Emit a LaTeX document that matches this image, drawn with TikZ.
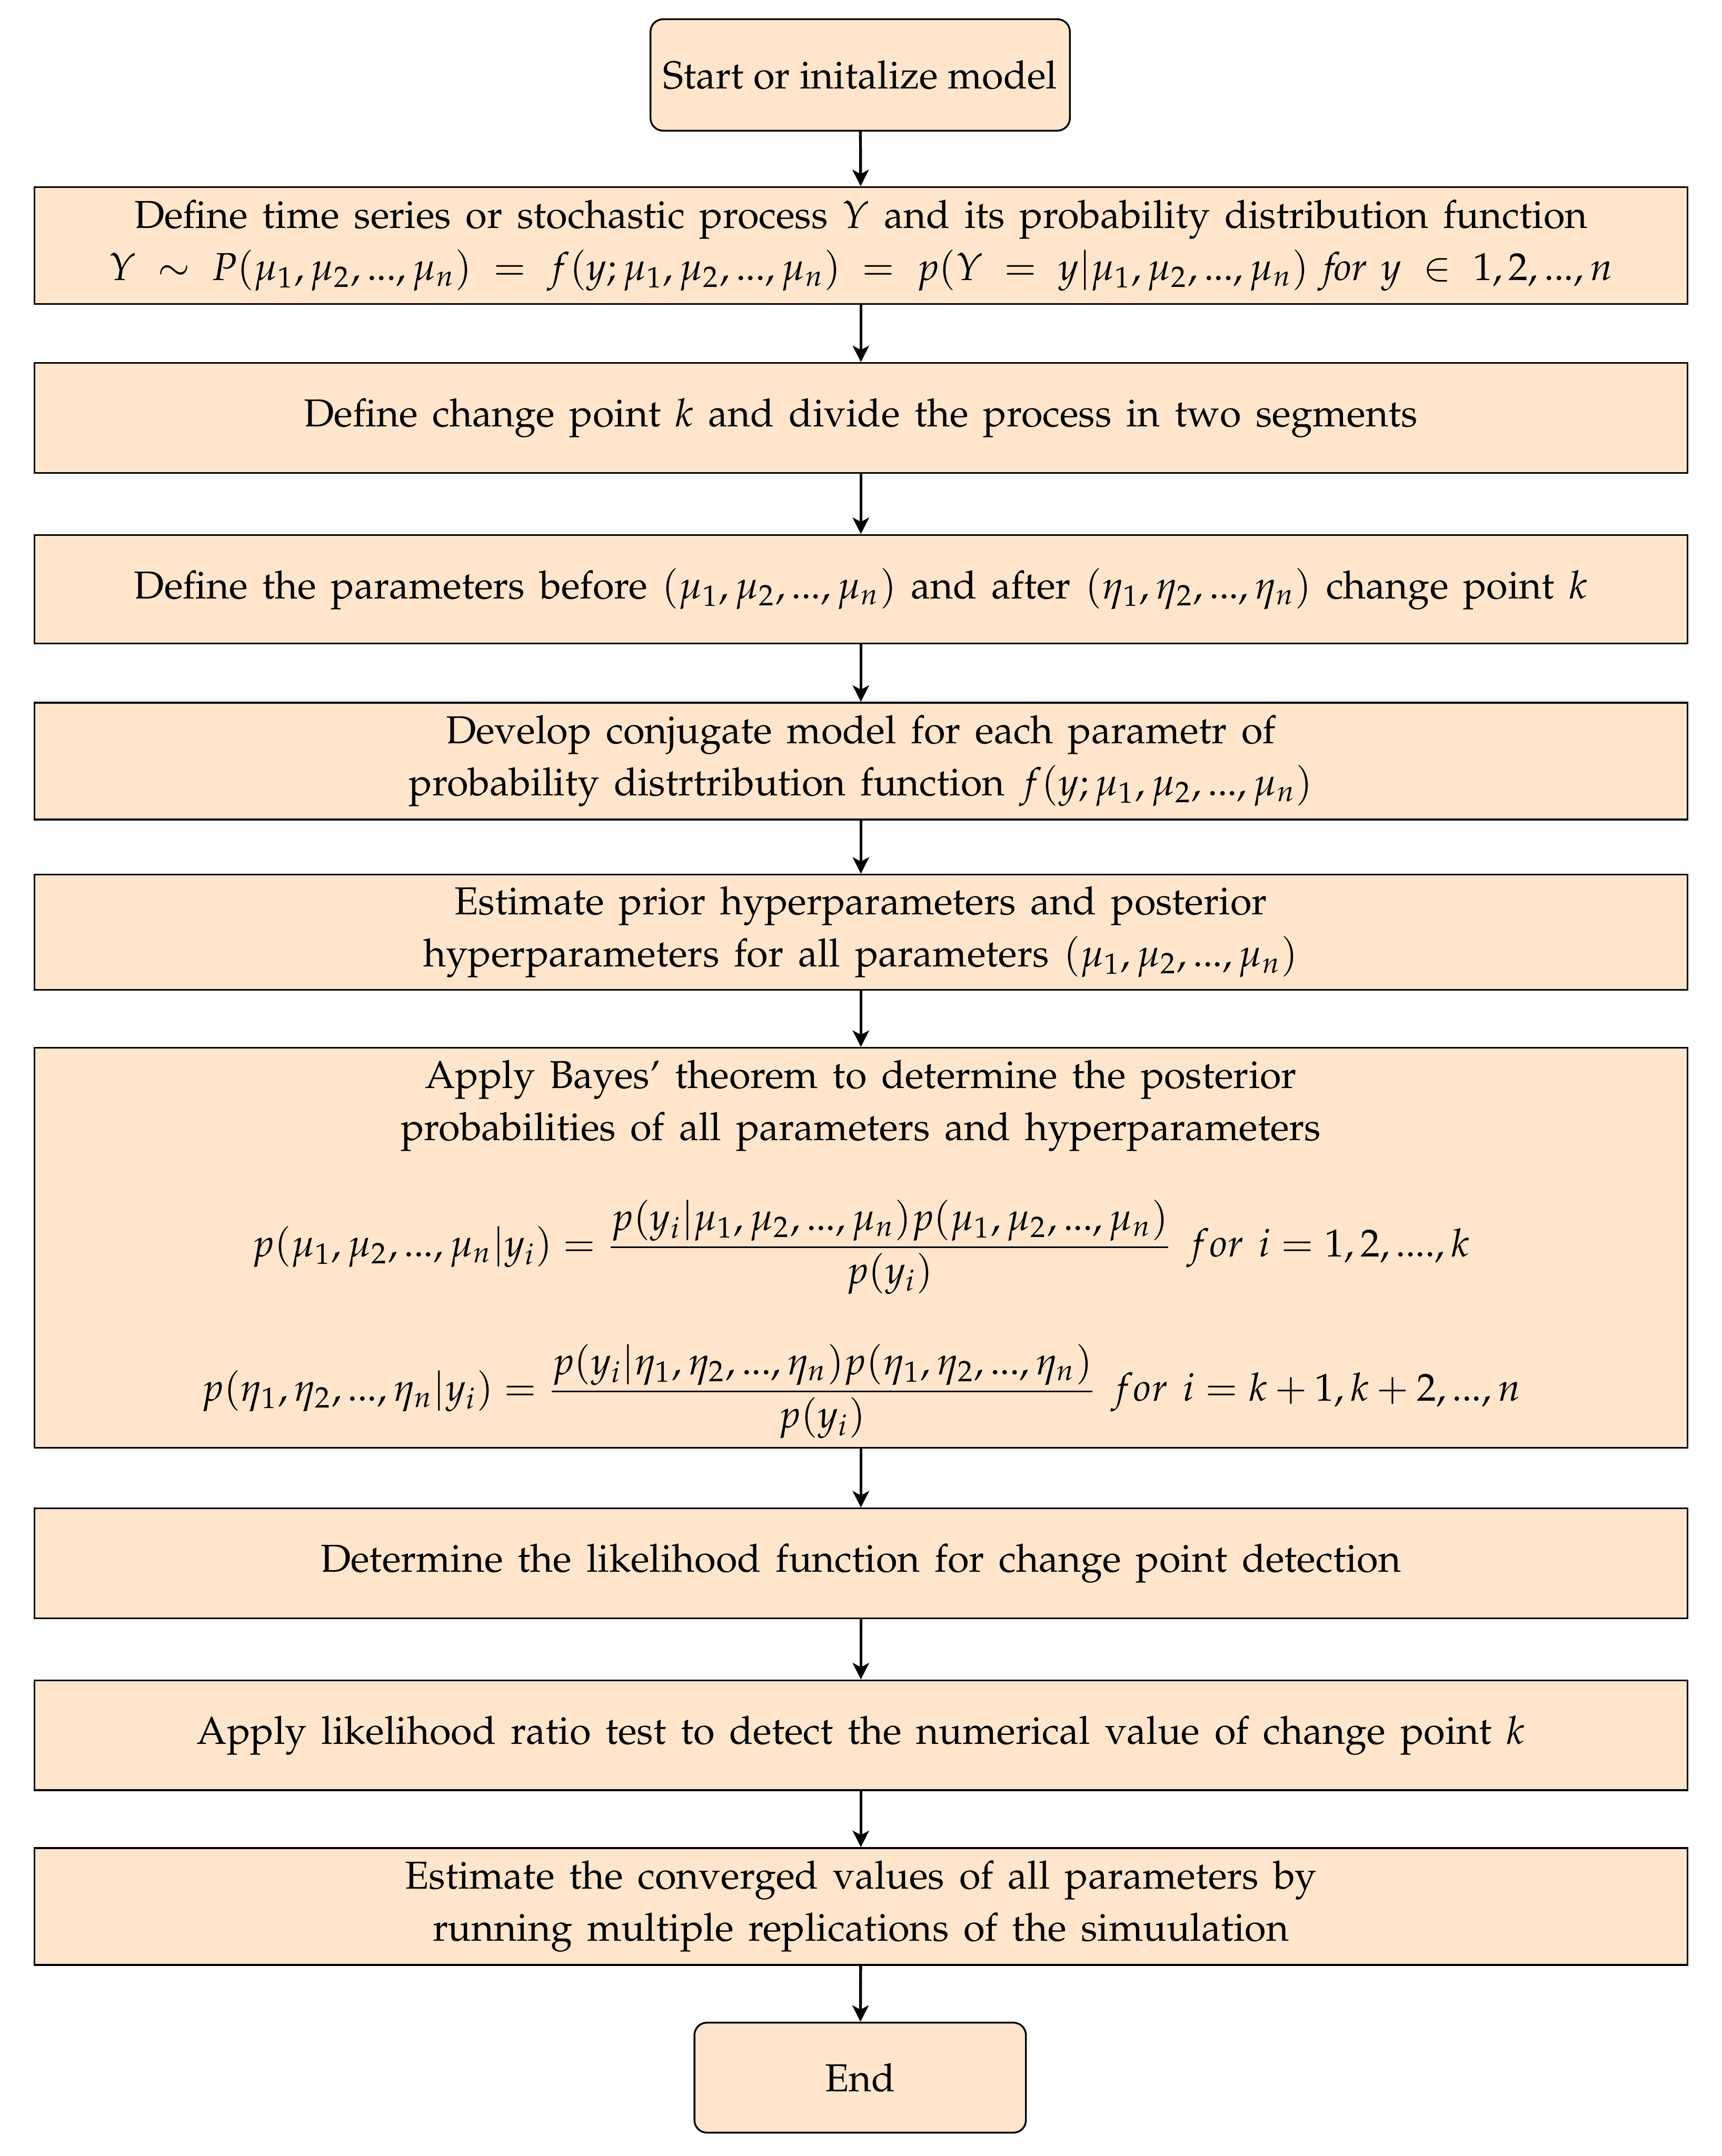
\documentclass[tikz,border=0pt]{standalone}
\usepackage[T1]{fontenc}
\usepackage{mathpazo}
\usetikzlibrary{arrows.meta}
\newcommand{\boxfont}{\fontsize{10.9}{14.6}\selectfont\spaceskip=4.1pt plus 1pt minus 1pt\relax}
\newcommand{\termfont}{\fontsize{10.9}{14.6}\selectfont}
\tikzset{
  flowbox/.style={draw=black, line width=0.5pt, fill=orange!20, minimum width=462.77pt,
    align=center, inner sep=0pt, font=\boxfont},
  termbox/.style={flowbox, rounded corners=3.5pt, font=\termfont},
  plaintext/.style={inner sep=0pt, align=center, font=\boxfont},
  flowarrow/.style={line width=0.8pt, -{Stealth[length=4.6pt,width=4.6pt,inset=1.2pt]}}
}
\begin{document}
\begin{tikzpicture}[x=0.385pt,y=-0.385pt]
\useasboundingbox (0,0) rectangle (1252,1568);
\node[termbox, minimum width=117.4pt, minimum height=31.2pt] (start) at (625.5,54.5) {Start or initalize model};
\node[flowbox, minimum height=32.7pt] (b2) at (626,178.5) {Define time series or stochastic process $Y$ and its probability distribution function\\
$Y \;\sim\; P(\mu_1,\mu_2,...,\mu_n) \;=\; f(y;\mu_1,\mu_2,...,\mu_n) \;=\; p(Y \;=\; y|\mu_1,\mu_2,...,\mu_n) \ \mathit{for}\ y \;\in\; 1,2,...,n$};
\node[flowbox, minimum height=30.8pt] (b3) at (626,304) {Define change point $k$ and divide the process in two segments};
\node[flowbox, minimum height=30.4pt] (b4) at (626,428.5) {Define the parameters before $(\mu_1,\mu_2,...,\mu_n)$ and after $(\eta_1,\eta_2,...,\eta_n)$ change point $k$};
\node[flowbox, minimum height=32.7pt] (b5) at (626,553.5) {Develop conjugate model for each parametr of\\ probability distrtribution function $f(y;\mu_1,\mu_2,...,\mu_n)$};
\node[flowbox, minimum height=32.3pt] (b6) at (626,678) {Estimate prior hyperparameters and posterior\\ hyperparameters for all parameters $(\mu_1,\mu_2,...,\mu_n)$};
\node[flowbox, minimum height=112pt] (b7) at (626,907.5) {};
\node[plaintext] (b7a) at (626,804) {Apply Bayes' theorem to determine the posterior\\ probabilities of all parameters and hyperparameters};
\node[plaintext, anchor=base] (b7b) at (626,914) {$\displaystyle p(\mu_1,\mu_2,...,\mu_n|y_i)=\frac{p(y_i|\mu_1,\mu_2,...,\mu_n)p(\mu_1,\mu_2,...,\mu_n)}{p(y_i)}\ for\ i=1,2,....,k$};
\node[plaintext, anchor=base] (b7c) at (626,1019) {$\displaystyle p(\eta_1,\eta_2,...,\eta_n|y_i)=\frac{p(y_i|\eta_1,\eta_2,...,\eta_n)p(\eta_1,\eta_2,...,\eta_n)}{p(y_i)}\ for\ i=k+1,k+2,...,n$};
\node[flowbox, minimum height=30.8pt] (b8) at (626,1137) {Determine the likelihood function for change point detection};
\node[flowbox, minimum height=30.8pt] (b9) at (626,1262) {Apply likelihood ratio test to detect the numerical value of change point $k$};
\node[flowbox, minimum height=32.7pt] (b10) at (626,1386.5) {Estimate the converged values of all parameters by\\ running multiple replications of the simuulation};
\node[termbox, minimum width=92.8pt, minimum height=30.8pt] (end) at (625.5,1511) {End};
\draw[flowarrow] (start) -- (b2);
\draw[flowarrow] (b2) -- (b3);
\draw[flowarrow] (b3) -- (b4);
\draw[flowarrow] (b4) -- (b5);
\draw[flowarrow] (b5) -- (b6);
\draw[flowarrow] (b6) -- (b7);
\draw[flowarrow] (b7) -- (b8);
\draw[flowarrow] (b8) -- (b9);
\draw[flowarrow] (b9) -- (b10);
\draw[flowarrow] (b10) -- (end);
\end{tikzpicture}
\end{document}
